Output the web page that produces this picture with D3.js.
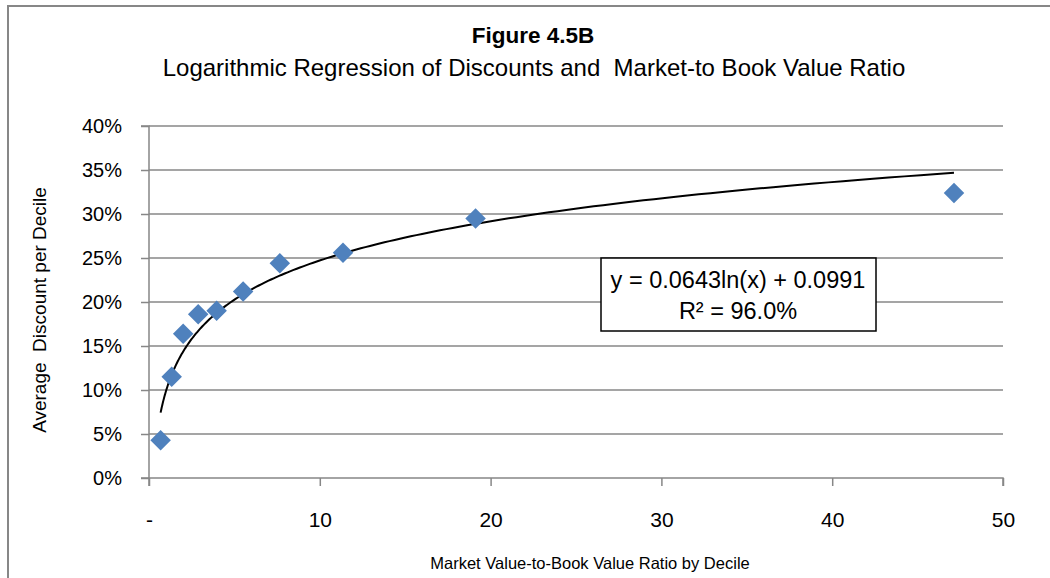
<!DOCTYPE html>
<html>
<head>
<meta charset="utf-8">
<script src="https://cdn.jsdelivr.net/npm/d3@7"></script>
<style>
  html, body { margin: 0; padding: 0; background: #fff; }
  svg { display: block; font-family: "Liberation Sans", Arial, sans-serif; }
  svg text { white-space: pre; }
</style>
</head>
<body>
<svg id="chart" width="1050" height="578"></svg>
<script>
// ---- data ----
const mvbvRatio = [0.68, 1.33, 2.0, 2.88, 3.96, 5.51, 7.66, 11.36, 19.12, 47.13];
const avgDiscount = [0.043, 0.115, 0.164, 0.186, 0.190, 0.212, 0.244, 0.256, 0.295, 0.324];
const xTicks = [0, 10, 20, 30, 40, 50];
const yTicks = [0, 0.05, 0.10, 0.15, 0.20, 0.25, 0.30, 0.35, 0.40];
const trendSlope = 0.0643;
const trendIntercept = 0.0991;
const titleText = "Figure 4.5B";
const subtitleText = "Logarithmic Regression of Discounts and  Market-to Book Value Ratio";
const xTitle = "Market Value-to-Book Value Ratio by Decile";
const yTitle = "Average  Discount per Decile";
const eqLine1 = "y = 0.0643ln(x) + 0.0991";
const eqLine2 = "R² = 96.0%";

// ---- layout ----
const svg = d3.select("#chart");
const pL = 149, pR = 1003, pT = 126, pB = 478;
const gridColor = "#878787";
const FONT = "Liberation Sans, Arial, sans-serif";

const x = d3.scaleLinear().domain([0, 50]).range([pL, pR]);
const y = d3.scaleLinear().domain([0, 0.40]).range([pB, pT]);

// outer frame (left and top edges visible)
svg.append("path")
  .attr("d", `M8,578 L8,6 L1050,6`)
  .attr("fill", "none").attr("stroke", gridColor).attr("stroke-width", 2);

// gridlines
svg.append("g").selectAll("line").data(yTicks.filter(d => d > 0)).join("line")
  .attr("x1", pL).attr("x2", pR)
  .attr("y1", d => y(d)).attr("y2", d => y(d))
  .attr("stroke", gridColor).attr("stroke-width", 1.5);

// y axis
const yAxis = d3.axisLeft(y).tickValues(yTicks).tickFormat(d3.format(".0%")).tickSize(8).tickPadding(19);
const gy = svg.append("g").attr("transform", `translate(${pL},0)`).call(yAxis);
gy.select(".domain").attr("stroke", gridColor).attr("stroke-width", 1.5).attr("d", `M-8,${pT}H0V${pB}H-8`);
gy.selectAll(".tick line").attr("stroke", gridColor).attr("stroke-width", 1.5);
gy.selectAll(".tick text").attr("font-size", 20).attr("fill", "#000").attr("font-family", FONT);

// x axis
const xAxis = d3.axisBottom(x).tickValues(xTicks).tickFormat(d => d === 0 ? "-" : d).tickSize(8).tickPadding(26);
const gx = svg.append("g").attr("transform", `translate(0,${pB})`).call(xAxis);
gx.select(".domain").attr("stroke", gridColor).attr("stroke-width", 1.5).attr("d", `M${pL},8V0H${pR}V8`);
gx.selectAll(".tick line").attr("stroke", gridColor).attr("stroke-width", 1.5);
gx.selectAll(".tick text").attr("font-size", 21).attr("fill", "#000").attr("font-family", FONT);

// trendline (logarithmic fit as given in the chart)
const xMin = d3.min(mvbvRatio), xMax = d3.max(mvbvRatio);
const trendX = d3.range(0, 201).map(i => xMin * Math.pow(xMax / xMin, i / 200));
const line = d3.line().x(d => x(d)).y(d => y(trendSlope * Math.log(d) + trendIntercept));
svg.append("path").datum(trendX).attr("d", line)
  .attr("fill", "none").attr("stroke", "#000").attr("stroke-width", 2);

// points (diamonds)
const sym = d3.symbol().type(d3.symbolSquare).size(210);
svg.append("g").selectAll("path").data(mvbvRatio.map((v, i) => [v, avgDiscount[i]])).join("path")
  .attr("d", sym)
  .attr("transform", d => `translate(${x(d[0])},${y(d[1])}) rotate(45)`)
  .attr("fill", "#4F81BD");

// equation box
svg.append("rect").attr("x", 601).attr("y", 258).attr("width", 275).attr("height", 73)
  .attr("fill", "#fff").attr("stroke", "#000").attr("stroke-width", 1.5);
svg.append("text").attr("x", 738).attr("y", 288).attr("text-anchor", "middle")
  .attr("font-size", 23.5).text(eqLine1);
svg.append("text").attr("x", 738).attr("y", 319).attr("text-anchor", "middle")
  .attr("font-size", 23.5).text(eqLine2);

// titles
svg.append("text").attr("x", 533).attr("y", 43).attr("text-anchor", "middle")
  .attr("font-size", 22.5).attr("font-weight", "bold").text(titleText);
svg.append("text").attr("x", 534).attr("y", 76).attr("text-anchor", "middle")
  .attr("font-size", 24).text(subtitleText);
svg.append("text").attr("x", 590).attr("y", 569).attr("text-anchor", "middle")
  .attr("font-size", 16.5).text(xTitle);
svg.append("text").attr("transform", "translate(46,310) rotate(-90)").attr("text-anchor", "middle")
  .attr("font-size", 19).text(yTitle);
</script>
</body>
</html>
